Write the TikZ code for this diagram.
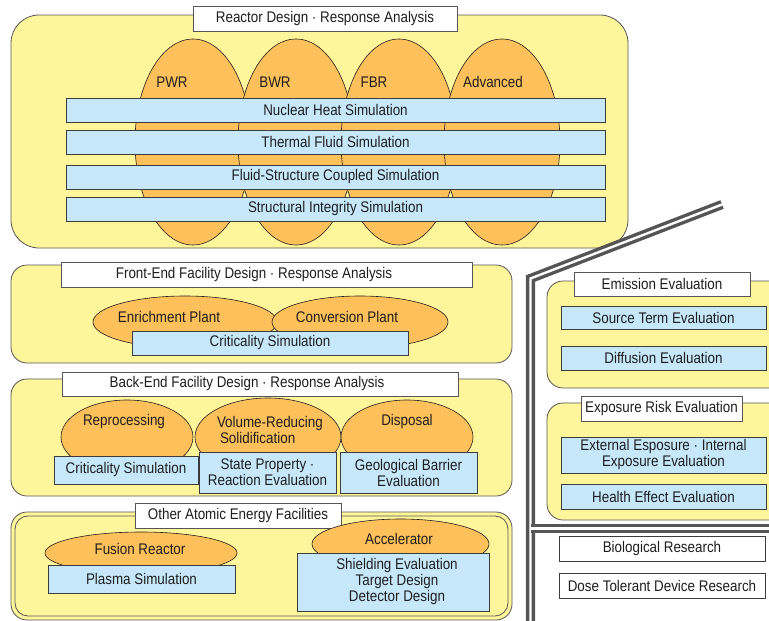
\documentclass[tikz,border=0pt]{standalone}
\usepackage{fontspec}
\setmainfont{Liberation Sans}[FakeStretch=0.87]
\usetikzlibrary{shapes.geometric}
\definecolor{yel}{HTML}{FFF69B}
\definecolor{org}{HTML}{FDC05A}
\definecolor{blu}{HTML}{C7E8FA}
\definecolor{edge}{HTML}{555555}
\definecolor{txt}{HTML}{1E1E1E}
\tikzset{
  base/.style={inner sep=0pt, outer sep=0pt, text=txt, font=\fontsize{15.4}{16}\selectfont},
  group/.style={base, draw=edge, fill=yel, line width=0.8pt, rectangle},
  titlebox/.style={base, draw=edge, fill=white, line width=0.8pt, rectangle},
  bluebox/.style={base, draw=edge!70!black, fill=blu, line width=0.8pt, rectangle, align=center},
  whitebox/.style={base, draw=edge!70!black, fill=white, line width=0.8pt, rectangle},
  oval/.style={base, draw=txt, fill=org, line width=0.6pt, ellipse},
  lbl/.style={base, align=center},
  sep/.style={draw=edge, line width=3.4pt, double=white, double distance=2.4pt},
  sz/.style 2 args={minimum width=#1pt, minimum height=#2pt},
}
\begin{document}
\begin{tikzpicture}[x=1pt,y=-1pt]
\useasboundingbox (0,0) rectangle (769,621);
\clip (0,0) rectangle (769,621);

% ---------------- Reactor design ----------------
\node[group, sz={617}{233}, rounded corners=28pt] (rg) at (319.5,131.5) {};
\node[titlebox, sz={264}{25}] (rt) at (325,18.5) {Reactor Design · Response Analysis};
\node[oval, sz={116}{206}] (pwr) at (193,142) {};
\node[oval, sz={116}{206}] (bwr) at (296,142) {};
\node[oval, sz={116}{206}] (fbr) at (399,142) {};
\node[oval, sz={116}{206}] (adv) at (502,142) {};
\node[lbl] (pwrl) at (172,82) {PWR};
\node[lbl] (bwrl) at (275,82) {BWR};
\node[lbl] (fbrl) at (374,82) {FBR};
\node[lbl] (advl) at (493,82) {Advanced};
\node[bluebox, sz={539}{24}] (nh) at (335.5,110) {Nuclear Heat Simulation};
\node[bluebox, sz={539}{24}] (tf) at (335.5,142) {Thermal Fluid Simulation};
\node[bluebox, sz={539}{24}] (fs) at (335.5,177) {Fluid-Structure Coupled Simulation};
\node[bluebox, sz={539}{24}] (si) at (335.5,209) {Structural Integrity Simulation};

% ---------------- Front-end ----------------
\node[group, sz={501}{98}, rounded corners=16pt] (fg) at (261.5,314) {};
\node[titlebox, sz={411}{25}] (ft) at (266.5,274.5) {};
\node[lbl] (ftl) at (254,274.5) {Front-End Facility Design · Response Analysis};
\node[oval, sz={184}{52}] (enr) at (185,322) {};
\node[oval, sz={176}{52}] (conv) at (360,322) {};
\node[lbl] (enrl) at (169,317) {Enrichment Plant};
\node[lbl] (convl) at (347,317) {Conversion Plant};
\node[bluebox, sz={276}{24}] (fcrit) at (270,343) {Criticality Simulation};

% ---------------- Back-end ----------------
\node[group, sz={501}{117}, rounded corners=16pt] (bg) at (261.5,437.5) {};
\node[titlebox, sz={396}{24}] (bt) at (260,384) {};
\node[lbl] (btl) at (247,384) {Back-End Facility Design · Response Analysis};
\node[oval, sz={132}{74}] (rep) at (127,437) {};
\node[oval, sz={146}{78}] (vol) at (268,437) {};
\node[oval, sz={132}{74}] (dis) at (407,437) {};
\node[lbl] (repl) at (124,422) {Reprocessing};
\node[lbl, align=left, anchor=west] (voll) at (217,430) {Volume-Reducing\\\hspace*{3pt}Solidification};
\node[lbl] (disl) at (407,422) {Disposal};
\node[bluebox, sz={144}{28}] (bcrit) at (126,470) {Criticality Simulation};
\node[bluebox, sz={137}{41}] (state) at (267.5,472.5) {State Property ·\\Reaction Evaluation};
\node[bluebox, sz={137}{41}] (geo) at (408.5,472.5) {Geological Barrier\\Evaluation};

% ---------------- Other facilities ----------------
\node[group, sz={501}{108}, rounded corners=16pt] (og) at (261.5,566) {};
\node[base, draw=edge, line width=0.8pt, rectangle, sz={493}{100}, rounded corners=13pt] (ogi) at (261.5,566) {};
\node[titlebox, sz={206}{25}] (ot) at (238,515.5) {Other Atomic Energy Facilities};
\node[oval, sz={192}{42}] (fus) at (141,553) {};
\node[lbl] (fusl) at (140,549) {Fusion Reactor};
\node[bluebox, sz={187}{28}] (pla) at (141.5,579) {Plasma Simulation};
\node[oval, sz={177}{50}] (acc) at (400.5,544) {};
\node[lbl] (accl) at (399,539) {Accelerator};
\node[bluebox, sz={192}{58}] (shd) at (393,582) {};
\node[lbl] (shdl) at (397,582) {Shielding Evaluation\\Target Design\\Detector Design};

% ---------------- Separators ----------------
\coordinate (s1) at (722,204.5);
\coordinate (s2) at (530.5,278.5);
\coordinate (s3) at (530.5,625);
\coordinate (h1) at (530.5,528.5);
\coordinate (h2) at (775,528.5);
\draw[sep] (s1) -- (s2) -- (s3);
\draw[sep] (h1) -- (h2);

% ---------------- Emission ----------------
\node[group, sz={243}{107}, rounded corners=16pt] (eg) at (668.5,334.5) {};
\node[titlebox, sz={176}{24}] (et) at (662,284) {Emission Evaluation};
\node[bluebox, sz={205}{23}] (src) at (663.5,317.5) {Source Term Evaluation};
\node[bluebox, sz={205}{24}] (dif) at (663.5,358) {Diffusion Evaluation};

% ---------------- Exposure ----------------
\node[group, sz={243}{117}, rounded corners=16pt] (xg) at (668.5,461.5) {};
\node[titlebox, sz={161}{25}] (xt) at (661.5,408.5) {Exposure Risk Evaluation};
\node[bluebox, sz={205}{36}] (ext) at (663.5,455) {External Esposure · Internal\\Exposure Evaluation};
\node[bluebox, sz={205}{25}] (hea) at (663.5,496.5) {Health Effect Evaluation};

% ---------------- Research ----------------
\node[whitebox, sz={206}{25}] (bio) at (662,548.5) {Biological Research};
\node[whitebox, sz={206}{25}] (dose) at (662,585.5) {Dose Tolerant Device Research};
\end{tikzpicture}
\end{document}
